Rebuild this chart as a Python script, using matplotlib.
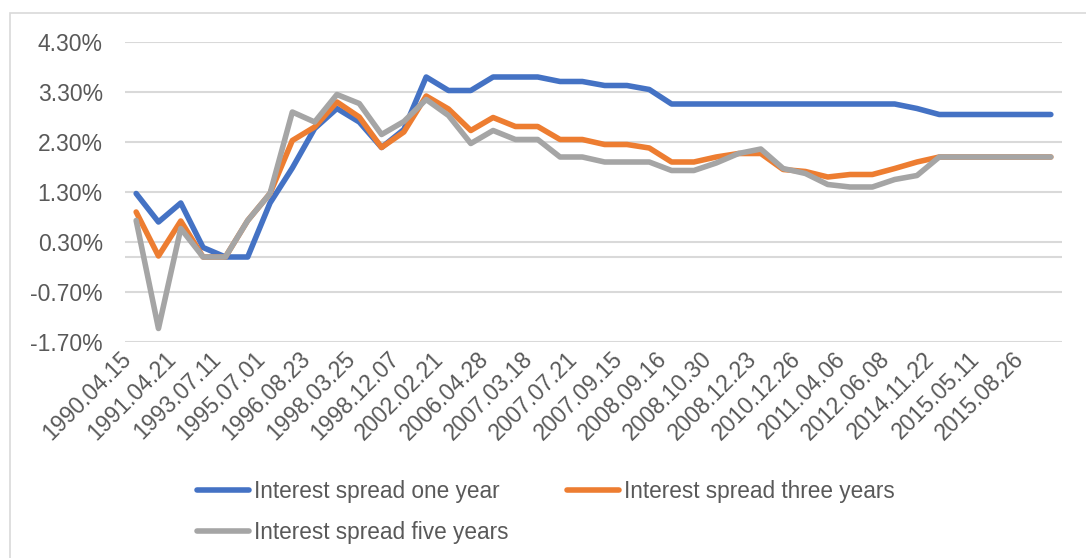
import numpy as np
import matplotlib
matplotlib.use('Agg')
import matplotlib.pyplot as plt
from matplotlib.patches import Rectangle
from matplotlib.transforms import ScaledTranslation

# tick labels shown on the category axis (every second observation)
date_labels = ['1990.04.15', '1991.04.21', '1993.07.11', '1995.07.01', '1996.08.23',
               '1998.03.25', '1998.12.07', '2002.02.21', '2006.04.28', '2007.03.18',
               '2007.07.21', '2007.09.15', '2008.09.16', '2008.10.30', '2008.12.23',
               '2010.12.26', '2011.04.06', '2012.06.08', '2014.11.22', '2015.05.11',
               '2015.08.26']

# spreads in percent, one value per observation
one_year = [1.27, 0.70, 1.08, 0.19, 0.00, 0.00, 1.08, 1.78, 2.57, 2.97,
            2.70, 2.19, 2.55, 3.60, 3.33, 3.33, 3.60, 3.60, 3.60, 3.51,
            3.51, 3.43, 3.43, 3.35, 3.06, 3.06, 3.06, 3.06, 3.06, 3.06,
            3.06, 3.06, 3.06, 3.06, 3.06, 2.97, 2.85, 2.85, 2.85, 2.85,
            2.85, 2.85]
three_years = [0.90, 0.02, 0.72, 0.00, 0.00, 0.73, 1.27, 2.33, 2.60, 3.10,
               2.80, 2.19, 2.50, 3.22, 2.96, 2.53, 2.79, 2.61, 2.61, 2.35,
               2.35, 2.25, 2.25, 2.18, 1.90, 1.90, 2.00, 2.07, 2.07, 1.75,
               1.71, 1.60, 1.65, 1.65, 1.77, 1.90, 2.00, 2.00, 2.00, 2.00,
               2.00, 2.00]
five_years = [0.73, -1.43, 0.57, 0.00, 0.00, 0.73, 1.27, 2.90, 2.70, 3.25,
              3.07, 2.45, 2.71, 3.15, 2.83, 2.27, 2.53, 2.35, 2.35, 2.00,
              2.00, 1.90, 1.90, 1.90, 1.73, 1.73, 1.88, 2.07, 2.16, 1.77,
              1.67, 1.45, 1.40, 1.40, 1.55, 1.63, 2.00, 2.00, 2.00, 2.00,
              2.00, 2.00]

y_ticks = [-1.7, -0.7, 0.3, 1.3, 2.3, 3.3, 4.3]

plt.rcParams['font.family'] = ['Liberation Sans', 'DejaVu Sans']
text_col = '#595959'
grid_col = '#D9D9D9'

fig = plt.figure(figsize=(10.86, 5.58), dpi=100)
ax = fig.add_axes([125 / 1086, 1 - 342 / 558, 937 / 1086, 300 / 558])

x = np.arange(len(one_year))
l1, = ax.plot(x, one_year, color='#4472C4', lw=4, solid_capstyle='round', solid_joinstyle='round')
l2, = ax.plot(x, three_years, color='#ED7D31', lw=4, solid_capstyle='round', solid_joinstyle='round')
l3, = ax.plot(x, five_years, color='#A5A5A5', lw=4, solid_capstyle='round', solid_joinstyle='round')

ax.set_xlim(-0.5, len(one_year) - 0.5)
ax.set_ylim(-1.7, 4.3)
ax.set_yticks(y_ticks)
ax.set_yticklabels([f'{v:.2f}%' for v in y_ticks])
ax.set_xticks(x[::2])
ax.set_xticklabels(date_labels, rotation=45, ha='right', va='center', rotation_mode='anchor')

ax.grid(axis='y', color=grid_col, lw=1.5, zorder=0)
ax.axhline(0, color=grid_col, lw=1.5, zorder=0)
ax.set_axisbelow(True)
for s in ax.spines.values():
    s.set_visible(False)
ax.tick_params(axis='both', length=0, colors=text_col, labelsize=16.5)
ax.tick_params(axis='y', pad=16)
ax.tick_params(axis='x', pad=14)

# nudge the rotated date labels up and to the left
shift = ScaledTranslation(-8 / 100, 6 / 100, fig.dpi_scale_trans)
for lab in ax.get_xticklabels():
    lab.set_transform(lab.get_transform() + shift)

# legend in row order: one year, three years / five years
fig.legend([l1, l3, l2],
           ['Interest spread one year', 'Interest spread five years', 'Interest spread three years'],
           ncol=2, loc='center', bbox_to_anchor=(0.5 + 3 / 1086, 1 - 512 / 558), frameon=False,
           fontsize=16.3, labelcolor=text_col, handlelength=2.3, handletextpad=0.2,
           columnspacing=2.6, labelspacing=0.82, borderpad=0)

# chart frame (top and left edges visible)
fig.patches.append(Rectangle((10 / 1086, -0.1), 1.2, 1.1 - 13 / 558, transform=fig.transFigure,
                             fill=False, edgecolor=grid_col, lw=1.2))

fig.savefig('out.png', dpi=100)
